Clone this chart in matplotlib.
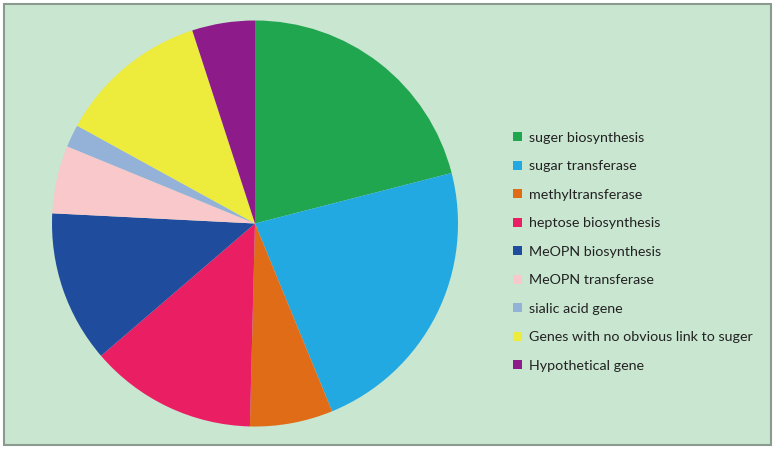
import matplotlib.pyplot as plt
from matplotlib.patches import Rectangle

# categories and shares (in percent of the circle)
labels = ['suger biosynthesis',
          'sugar transferase',
          'methyltransferase',
          'heptose biosynthesis',
          'MeOPN biosynthesis',
          'MeOPN transferase',
          'sialic acid gene',
          'Genes with no obvious link to suger',
          'Hypothetical gene']
shares = [21.0, 22.8, 6.6, 13.3, 12.1, 5.4, 1.8, 12.0, 5.0]
colors = ['#21A650', '#23A9E1', '#E06C17', '#E91E63', '#1F4C9D',
          '#F9C8CB', '#94B2D7', '#EDEB3B', '#8D1B89']

W, H = 775, 449
fig = plt.figure(figsize=(W / 100, H / 100), dpi=100, facecolor='white')

# light green panel with grey border
fig.patches.append(Rectangle((4 / W, 4 / H), (W - 8) / W, (H - 8) / H,
                             transform=fig.transFigure, facecolor='#C9E6D0',
                             edgecolor='#8A9A8E', linewidth=1.5, zorder=-5))

# pie: centre (255, 223.5) px, radius 203 px
cx, cy, r = 255, 223.5, 203
ax = fig.add_axes([(cx - r) / W, (H - cy - r) / H, 2 * r / W, 2 * r / H])
ax.set_facecolor('none')
ax.set_zorder(2)
wedges, _ = ax.pie(shares, colors=colors, startangle=90, counterclock=False,
                   radius=1, wedgeprops=dict(linewidth=0))
ax.set_xlim(-1, 1)
ax.set_ylim(-1, 1)
ax.set_aspect('equal')
ax.axis('off')

plt.rcParams['font.family'] = ['Lato', 'DejaVu Sans']
leg = fig.legend(wedges, labels, loc='upper left',
                 bbox_to_anchor=(513 / W, (H - 132) / H), frameon=False,
                 fontsize=10.3, handlelength=0.6, handleheight=0.6,
                 handletextpad=0.5, labelspacing=1.15, borderpad=0,
                 borderaxespad=0, labelcolor='#222222')
leg.set_zorder(3)

fig.savefig('out.png', dpi=100, facecolor=fig.get_facecolor())
